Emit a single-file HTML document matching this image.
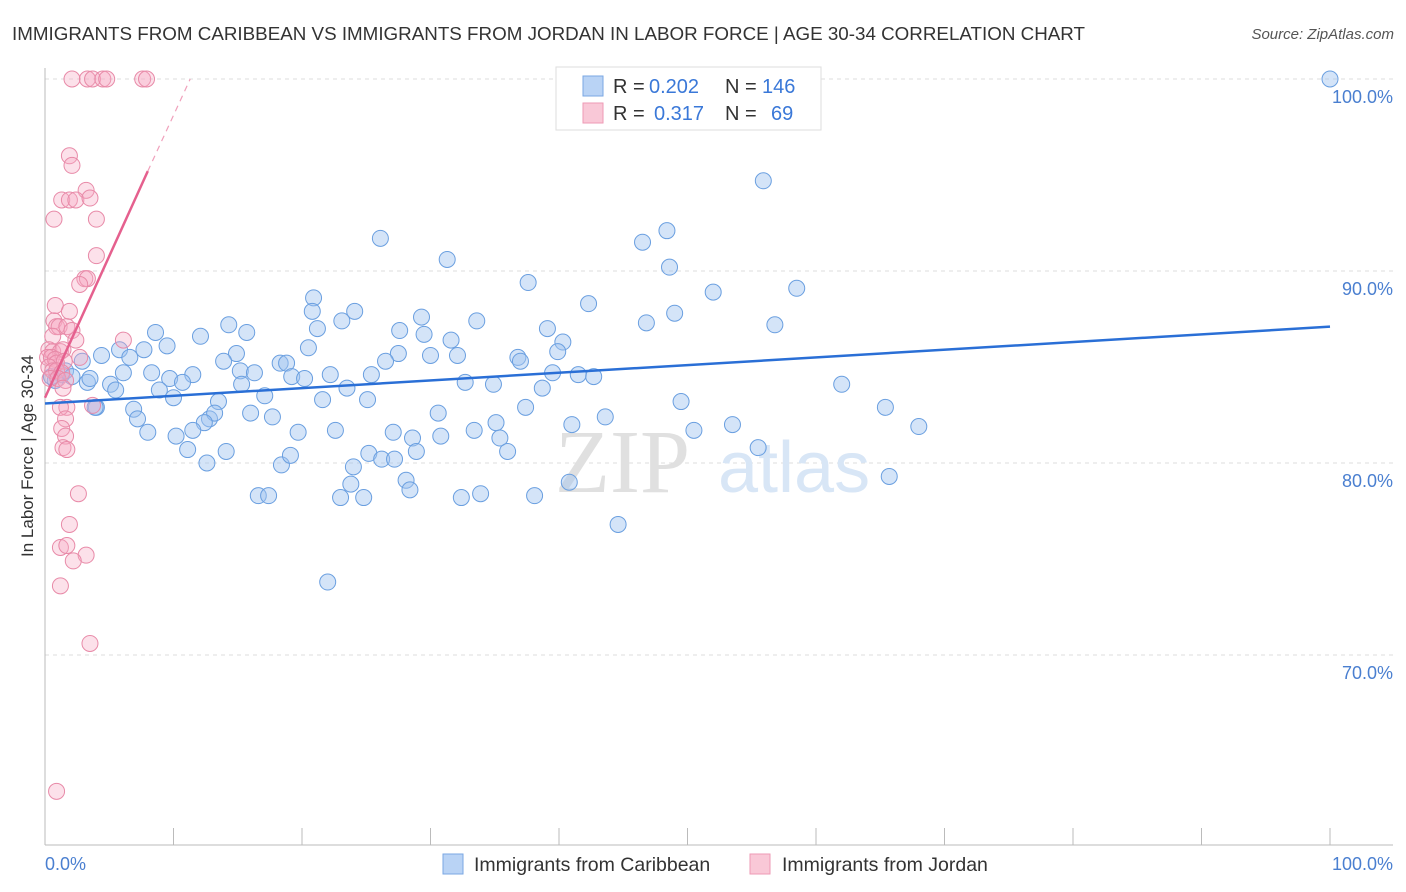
<!DOCTYPE html>
<html><head><meta charset="utf-8">
<style>
body{margin:0;background:#fff;font-family:"Liberation Sans",sans-serif;}
svg{display:block}
</style></head>
<body>
<svg width="1406" height="892" xmlns="http://www.w3.org/2000/svg">
<text x="12" y="40" font-size="18.5" fill="#333" textLength="1073" lengthAdjust="spacingAndGlyphs">IMMIGRANTS FROM CARIBBEAN VS IMMIGRANTS FROM JORDAN IN LABOR FORCE | AGE 30-34 CORRELATION CHART</text>
<text x="1394" y="39" font-size="15" fill="#555" font-style="italic" text-anchor="end">Source: ZipAtlas.com</text>
<g id="grid"></g>
<text x="555" y="492" font-size="90" font-family="Liberation Serif,serif" fill="#e0e0e0">ZIP</text>
<text x="718" y="492" font-size="72" fill="#d8e6f6">atlas</text>
<g id="marks"></g>
<text transform="translate(33,456) rotate(-90)" font-size="17" fill="#333" text-anchor="middle">In Labor Force | Age 30-34</text>
<text x="45" y="870" font-size="18" fill="#4a7fd0">0.0%</text>
<text x="1393" y="870" font-size="18" fill="#4a7fd0" text-anchor="end">100.0%</text>
<g>
<rect x="556" y="67" width="265" height="63" fill="#fff" stroke="#ddd"/>
<rect x="583" y="76" width="20" height="20" fill="#b9d3f5" stroke="#7aa7e3"/>
<rect x="583" y="103" width="20" height="20" fill="#f9c8d7" stroke="#ee9ab4"/>
<text x="613" y="93" font-size="20" fill="#333">R =</text>
<text x="649" y="93" font-size="20" fill="#3a78d8">0.202</text>
<text x="725" y="93" font-size="20" fill="#333">N =</text>
<text x="762" y="93" font-size="20" fill="#3a78d8">146</text>
<text x="613" y="120" font-size="20" fill="#333">R =</text>
<text x="654" y="120" font-size="20" fill="#3a78d8">0.317</text>
<text x="725" y="120" font-size="20" fill="#333">N =</text>
<text x="771" y="120" font-size="20" fill="#3a78d8">69</text>
</g>
<g>
<rect x="443" y="854" width="20" height="20" fill="#b9d3f5" stroke="#7aa7e3"/>
<text x="474" y="871" font-size="19.5" fill="#333">Immigrants from Caribbean</text>
<rect x="750" y="854" width="20" height="20" fill="#f9c8d7" stroke="#ee9ab4"/>
<text x="782" y="871" font-size="19.5" fill="#333">Immigrants from Jordan</text>
</g>
</svg>
<script>
const yTicks=[70,80,90,100];
const yTickLabels=["70.0%","80.0%","90.0%","100.0%"];
const xTicks=[0,10,20,30,40,50,60,70,80,90,100];
const blueX=[100,55.9,26.1,46.5,48.4,31.3,48.6,37.6,52.0,58.5,42.3,20.9,20.8,24.1,23.1,29.3,33.6,46.8,49.0,56.8,21.2,27.6,29.5,39.1,40.3,31.6,14.3,15.7,8.6,12.1,9.5,5.8,4.4,2.9,6.6,7.7,20.5,14.9,13.9,27.5,30.0,32.1,36.8,37.0,39.9,26.5,18.3,18.8,15.2,16.3,19.2,20.2,22.2,25.4,39.5,41.5,42.7,8.3,11.5,6.1,9.7,10.7,15.3,5.1,3.3,5.5,8.9,10.0,13.5,17.1,21.6,23.5,25.1,32.7,34.9,38.7,62.0,49.5,4.0,6.9,7.2,16.0,17.7,12.8,13.2,12.4,30.6,37.4,43.6,65.4,41.0,33.4,35.1,22.6,19.7,11.5,10.2,8.0,28.6,30.8,27.1,35.4,50.5,53.5,68.0,11.1,14.1,55.5,36.0,28.9,25.2,26.2,27.2,12.6,18.4,19.1,24.0,28.1,28.4,40.8,23.8,65.7,16.6,17.4,23.0,24.8,32.4,33.9,38.1,44.6,22.0,1.3,1.6,2.1,0.8,0.5,3.5,3.9];
const blueY=[100,94.7,91.7,91.5,92.1,90.6,90.2,89.4,88.9,89.1,88.3,88.6,87.9,87.9,87.4,87.6,87.4,87.3,87.8,87.2,87.0,86.9,86.7,87.0,86.3,86.4,87.2,86.8,86.8,86.6,86.1,85.9,85.6,85.3,85.5,85.9,86.0,85.7,85.3,85.7,85.6,85.6,85.5,85.3,85.8,85.3,85.2,85.2,84.8,84.7,84.5,84.4,84.6,84.6,84.7,84.6,84.5,84.7,84.6,84.7,84.4,84.2,84.1,84.1,84.2,83.8,83.8,83.4,83.2,83.5,83.3,83.9,83.3,84.2,84.1,83.9,84.1,83.2,82.9,82.8,82.3,82.6,82.4,82.3,82.6,82.1,82.6,82.9,82.4,82.9,82.0,81.7,82.1,81.7,81.6,81.7,81.4,81.6,81.3,81.4,81.6,81.3,81.7,82.0,81.9,80.7,80.6,80.8,80.6,80.6,80.5,80.2,80.2,80.0,79.9,80.4,79.8,79.1,78.6,79.0,78.9,79.3,78.3,78.3,78.2,78.2,78.2,78.4,78.3,76.8,73.8,84.6,84.8,84.5,84.3,84.5,84.4,82.9];
const pinkX=[2.1,3.3,3.7,4.5,4.8,7.6,7.9,1.9,2.1,3.2,1.3,1.9,2.4,3.5,0.7,4.0,4.0,3.1,3.3,2.7,0.8,1.9,0.7,0.9,1.1,1.7,2.1,2.4,6.1,0.6,0.3,0.6,1.2,1.4,0.2,0.5,0.8,0.9,1.5,0.3,0.6,0.9,1.3,0.4,1.0,1.6,1.4,3.7,1.7,1.2,1.6,1.3,1.6,1.4,1.7,2.6,1.9,1.2,1.7,3.2,2.2,1.2,3.5,0.9,2.7];
const pinkY=[100,100,100,100,100,100,100,96.0,95.5,94.2,93.7,93.7,93.7,93.8,92.7,92.7,90.8,89.6,89.6,89.3,88.2,87.9,87.4,87.1,87.1,87.1,86.9,86.4,86.4,86.6,85.9,85.8,85.8,85.9,85.5,85.5,85.4,85.2,85.3,85.0,84.8,84.8,84.7,84.4,84.4,84.3,83.9,83.0,82.9,82.9,82.3,81.8,81.4,80.8,80.7,78.4,76.8,75.6,75.7,75.2,74.9,73.6,70.6,62.9,85.5];
const blueTrend=[[0,83.1],[100,87.1]];
const pinkTrendSolid=[[0,83.4],[8.0,95.2]];
const pinkTrendDash=[[8.0,95.2],[11.3,100]];

const NS="http://www.w3.org/2000/svg";
const X=v=>45+v*12.85;
const Y=v=>79+(100-v)*19.2;
function mk(tag,attrs,parent){const e=document.createElementNS(NS,tag);for(const k in attrs)e.setAttribute(k,attrs[k]);parent.appendChild(e);return e;}
const grid=document.getElementById('grid');
const marks=document.getElementById('marks');
yTicks.forEach((t,i)=>{
  const l=mk('line',{x1:45,x2:1393,y1:Y(t),y2:Y(t),stroke:'#ddd','stroke-dasharray':'4,4'},grid);
  
  
  const tx=mk('text',{x:1393,y:Y(t)+24,'font-size':18,fill:'#4a7fd0','text-anchor':'end'},grid);
  tx.textContent=yTickLabels[i];
  
  
});
const ya=mk('line',{x1:45,x2:45,y1:68,y2:845,stroke:'#bbb'},grid);


const xa=mk('line',{x1:45,x2:1393,y1:845,y2:845,stroke:'#bbb'},grid);


xTicks.forEach(t=>{
  const l=mk('line',{x1:X(t),x2:X(t),y1:828,y2:845,stroke:'#bbb'},grid);
  
  
});
blueX.forEach((v,i)=>{
  const c=mk('circle',{cx:X(v),cy:Y(blueY[i]),r:8,fill:'rgba(160,196,240,0.45)',stroke:'#6a9fe0','stroke-width':1},marks);
  
  
});
pinkX.forEach((v,i)=>{
  const c=mk('circle',{cx:X(v),cy:Y(pinkY[i]),r:8,fill:'rgba(245,170,195,0.35)',stroke:'#e88aa8','stroke-width':1},marks);
  
  
});
const bl=mk('line',{x1:X(blueTrend[0][0]),y1:Y(blueTrend[0][1]),x2:X(blueTrend[1][0]),y2:Y(blueTrend[1][1]),stroke:'#2a6fd6','stroke-width':2.5},marks);


const pl=mk('line',{x1:X(pinkTrendSolid[0][0]),y1:Y(pinkTrendSolid[0][1]),x2:X(pinkTrendSolid[1][0]),y2:Y(pinkTrendSolid[1][1]),stroke:'#e5608e','stroke-width':2.5},marks);


const pd=mk('line',{x1:X(pinkTrendDash[0][0]),y1:Y(pinkTrendDash[0][1]),x2:X(pinkTrendDash[1][0]),y2:Y(pinkTrendDash[1][1]),stroke:'#f0a0bb','stroke-width':1.2,'stroke-dasharray':'6,5'},marks);


</script>
</body></html>
